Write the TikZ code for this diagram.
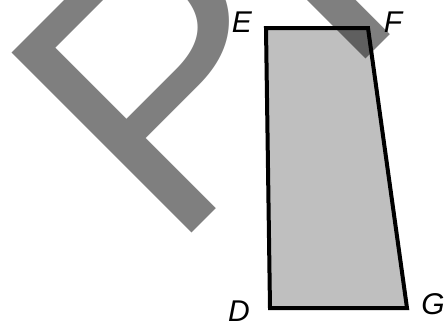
\documentclass[tikz,border=0pt]{standalone}
\usepackage{fontspec}
\newfontfamily\arialfont{Liberation Sans}
\usetikzlibrary{positioning, calc}
\definecolor{quadgray}{gray}{0.75}

\begin{document}
\begin{tikzpicture}[x=1pt, y=-1pt,
    quad/.style={draw=black, fill=quadgray, line width=4pt, line join=miter},
    vlabel/.style={inner sep=0pt, font=\arialfont\itshape\fontsize{30}{30}\selectfont},
    wmark/.style={inner sep=0pt, text=black, text opacity=0.5, font=\arialfont\fontsize{370}{370}\selectfont}
    ]
    \useasboundingbox (0,0) rectangle (445,324);

    % Corners
    \coordinate (E) at (266,28);
    \coordinate (F) at (368,28);
    \coordinate (G) at (407,308);
    \coordinate (D) at (270,308);

    % Quadrilateral
    \draw[quad] (E) -- (F) -- (G) -- (D) -- cycle;

    % Watermark
    \begin{scope}
        \clip (0,0) rectangle (445,324);
        \node[wmark, rotate=45, anchor=base west] (stamp) at (170,255) {PR};
    \end{scope}

    % Labels
    \node[vlabel] (labE) at ([shift={(-24,-6)}]E) {E};
    \node[vlabel] (labF) at ([shift={(25,-6)}]F) {F};
    \node[vlabel] (labD) at ([shift={(-31,3)}]D) {D};
    \node[vlabel] (labG) at ([shift={(26,-4)}]G) {G};

\end{tikzpicture}
\end{document}
